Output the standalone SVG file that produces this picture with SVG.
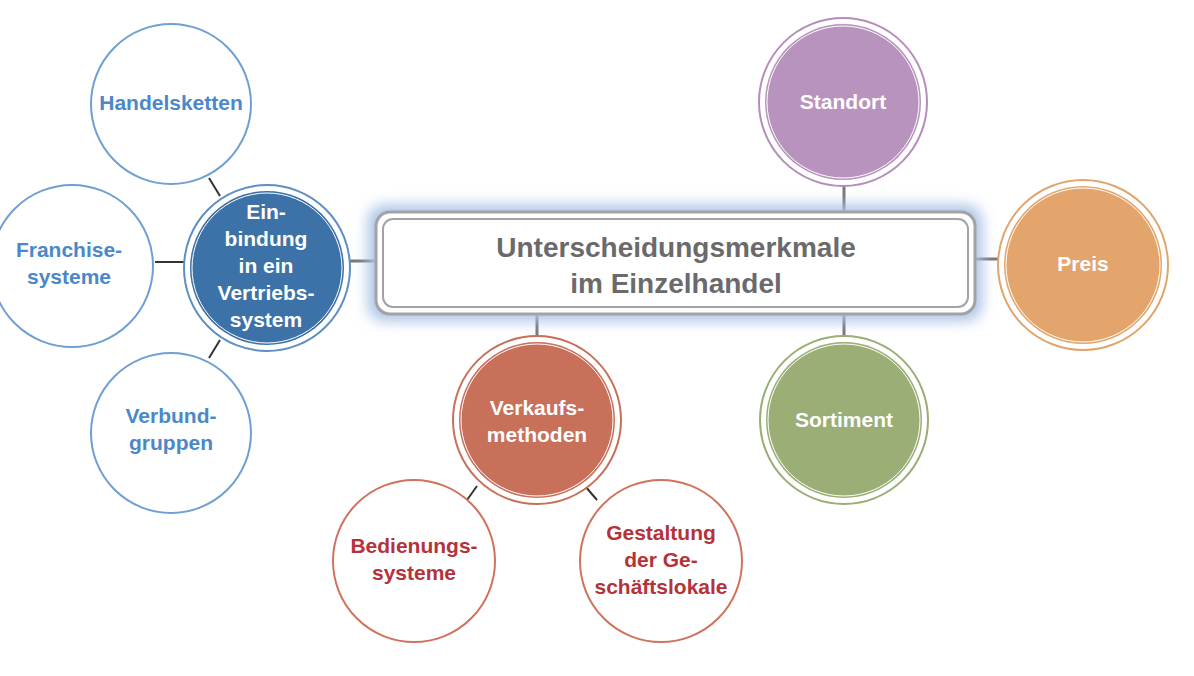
<svg xmlns="http://www.w3.org/2000/svg" width="1194" height="676" viewBox="0 0 1194 676">
<style>
text{font-family:"Liberation Sans",Arial,sans-serif;font-weight:bold;text-anchor:middle}
.w{fill:#ffffff;font-size:21px}
.b{fill:#4a88c8;font-size:21px}
.r{fill:#b5323a;font-size:21px}
.c{fill:#6a6a6c;font-size:28px}
.ol{fill:#fff;stroke-width:2}
.ring{fill:#fff;stroke-width:2}
.inner{stroke:#fff;stroke-width:1}
.con line{stroke:#333;stroke-width:2}
.con .g{stroke:#777;stroke-width:3}
</style>
<defs>
<filter id="blur" x="-20%" y="-50%" width="140%" height="200%"><feGaussianBlur stdDeviation="7"/></filter>
</defs>
<rect width="1194" height="676" fill="#fff"/>
<g id="connectors" class="con">
<line x1="209" y1="178" x2="220" y2="196"/>
<line x1="155" y1="262" x2="184" y2="262"/>
<line x1="220" y1="340" x2="209" y2="358"/>
<line class="g" x1="350" y1="261" x2="378" y2="261"/>
<line class="g" x1="974" y1="259" x2="999" y2="259"/>
<line class="g" x1="844" y1="186" x2="844" y2="213"/>
<line class="g" x1="844" y1="313" x2="844" y2="338"/>
<line class="g" x1="537" y1="313" x2="537" y2="337"/>
<line x1="477" y1="486" x2="467" y2="500"/>
<line x1="585" y1="486" x2="597" y2="500"/>
</g>
<g id="center">
<rect x="368" y="205" width="614" height="116" rx="16" fill="#aac3e6" filter="url(#blur)"/>
<rect x="376" y="212" width="599" height="102" rx="14" fill="#fff" stroke="#a3a3a6" stroke-width="3"/>
<rect x="383" y="219" width="585" height="88" rx="10" fill="#fff" stroke="#a3a3a6" stroke-width="2"/>
<text class="c" x="676" y="257">Unterscheidungsmerkmale</text>
<text class="c" x="676" y="293">im Einzelhandel</text>
</g>
<g id="handelsketten">
<circle cx="171" cy="104" r="80" fill="#fff" stroke="#6f9fd3" stroke-width="2"/>
<text class="b" x="171" y="110">Handelsketten</text>
</g>
<g id="franchise">
<circle cx="72" cy="266" r="81" fill="#fff" stroke="#6f9fd3" stroke-width="2"/>
<text class="b" x="69" y="257">Franchise-</text>
<text class="b" x="69" y="284">systeme</text>
</g>
<g id="verbund">
<circle cx="171" cy="433" r="80" fill="#fff" stroke="#6f9fd3" stroke-width="2"/>
<text class="b" x="171" y="423">Verbund-</text>
<text class="b" x="171" y="450">gruppen</text>
</g>
<g id="einbindung">
<circle cx="267" cy="268" r="83" fill="#fff" stroke="#5e8fc4" stroke-width="2"/>
<circle cx="267" cy="268" r="77" fill="#3c72a8"/>
<circle cx="267" cy="268" r="75" fill="none" class="inner"/>
<text class="w" x="266" y="219">Ein-</text>
<text class="w" x="266" y="246">bindung</text>
<text class="w" x="266" y="273">in ein</text>
<text class="w" x="266" y="300">Vertriebs-</text>
<text class="w" x="266" y="327">system</text>
</g>
<g id="standort">
<circle cx="843" cy="102" r="84" fill="#fff" stroke="#b68cbc" stroke-width="2"/>
<circle cx="843" cy="102" r="78" fill="#b893bd"/>
<circle cx="843" cy="102" r="76" fill="none" class="inner"/>
<text class="w" x="843" y="109">Standort</text>
</g>
<g id="preis">
<circle cx="1083" cy="265" r="85" fill="#fff" stroke="#e0a46c" stroke-width="2"/>
<circle cx="1083" cy="265" r="79" fill="#e3a56b"/>
<circle cx="1083" cy="265" r="77" fill="none" class="inner"/>
<text class="w" x="1083" y="271">Preis</text>
</g>
<g id="sortiment">
<circle cx="844" cy="420" r="84" fill="#fff" stroke="#99ae73" stroke-width="2"/>
<circle cx="844" cy="420" r="78" fill="#9aae75"/>
<circle cx="844" cy="420" r="76" fill="none" class="inner"/>
<text class="w" x="844" y="427">Sortiment</text>
</g>
<g id="verkaufsmethoden">
<circle cx="537" cy="420" r="84" fill="#fff" stroke="#c86f58" stroke-width="2"/>
<circle cx="537" cy="420" r="78" fill="#c8705a"/>
<circle cx="537" cy="420" r="76" fill="none" class="inner"/>
<text class="w" x="537" y="415">Verkaufs-</text>
<text class="w" x="537" y="442">methoden</text>
</g>
<g id="bedienung">
<circle cx="414" cy="561" r="81" fill="#fff" stroke="#d0735d" stroke-width="2"/>
<text class="r" x="414" y="553">Bedienungs-</text>
<text class="r" x="414" y="580">systeme</text>
</g>
<g id="gestaltung">
<circle cx="661" cy="561" r="81" fill="#fff" stroke="#d0735d" stroke-width="2"/>
<text class="r" x="661" y="540">Gestaltung</text>
<text class="r" x="661" y="567">der Ge-</text>
<text class="r" x="661" y="594">schäftslokale</text>
</g>
</svg>
